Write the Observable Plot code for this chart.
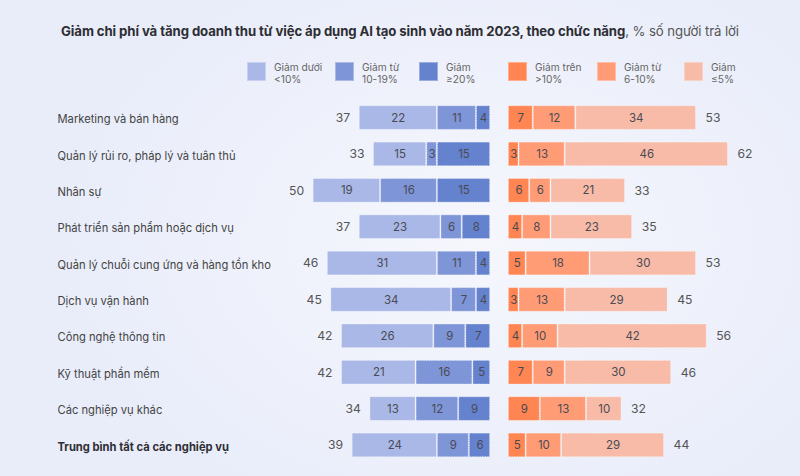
<!DOCTYPE html>
<html>
<head>
<meta charset="utf-8">
<script src="https://cdn.jsdelivr.net/npm/d3@7"></script>
<script src="https://cdn.jsdelivr.net/npm/@observablehq/plot@0.6"></script>
<style>
  html, body { margin: 0; padding: 0; }
  body {
    width: 800px; height: 476px; overflow: hidden;
    background: radial-gradient(ellipse 420px 300px at 480px 240px, #f6f7fd 0%, #eef1fb 60%, #e9edfa 100%);
    font-family: Inter, "Noto Sans", sans-serif;
  }
  #wrap { position: relative; width: 800px; height: 476px; }
  #title { position: absolute; top: 23px; left: 0; width: 800px; text-align: center; font-size: 13.2px; color: #333; letter-spacing: -0.1px; }
  #title b { font-weight: 700; color: #2e2e33; }
  #title span { color: #555; }
  #legend { position: absolute; top: 0; left: 0; width: 800px; height: 92px; }
  .li { position: absolute; top: 61px; display: flex; }
  .sw { width: 19px; height: 19px; margin-top: 1px; box-sizing: border-box; border: 1px solid rgba(255,255,255,0.35); }
  .lt { margin-left: 8px; font-size: 10.2px; line-height: 12px; color: #666; }
  #chart { position: absolute; top: 92px; left: 0; }
</style>
</head>
<body>
<div id="wrap">
  <div id="title"><b>Giảm chi phí và tăng doanh thu từ việc áp dụng AI tạo sinh vào năm 2023, theo chức năng</b><span>, % số người trả lời</span></div>
  <div id="legend"></div>
  <div id="chart"></div>
</div>
<script>
const categories = [
  "Marketing và bán hàng",
  "Quản lý rủi ro, pháp lý và tuân thủ",
  "Nhân sự",
  "Phát triển sản phẩm hoặc dịch vụ",
  "Quản lý chuỗi cung ứng và hàng tồn kho",
  "Dịch vụ vận hành",
  "Công nghệ thông tin",
  "Kỹ thuật phần mềm",
  "Các nghiệp vụ khác",
  "Trung bình tất cả các nghiệp vụ"
];
// Cost decrease (left side)
const costLt10   = [22, 15, 19, 23, 31, 34, 26, 21, 13, 24];
const cost10to19 = [11,  3, 16,  6, 11,  7,  9, 16, 12,  9];
const costGe20   = [ 4, 15, 15,  8,  4,  4,  7,  5,  9,  6];
const costTotal  = [37, 33, 50, 37, 46, 45, 42, 42, 34, 39];
// Revenue increase (right side)
const revGt10    = [ 7,  3,  6,  4,  5,  3,  4,  7,  9,  5];
const rev6to10   = [12, 13,  6,  8, 18, 13, 10,  9, 13, 10];
const revLe5     = [34, 46, 21, 23, 30, 29, 42, 30, 10, 29];
const revTotal   = [53, 62, 33, 35, 53, 45, 56, 46, 32, 44];

const seriesKeys = ["Giảm dưới <10%", "Giảm từ 10-19%", "Giảm ≥20%", "Giảm trên >10%", "Giảm từ 6-10%", "Giảm ≤5%"];
const seriesLines = [["Giảm dưới", "<10%"], ["Giảm từ", "10-19%"], ["Giảm", "≥20%"], ["Giảm trên", ">10%"], ["Giảm từ", "6-10%"], ["Giảm", "≤5%"]];
const seriesColors = ["#a9b8e7", "#7e95d8", "#6582ce", "#ff8552", "#ff9c76", "#f7bba7"];
const legendX = [247, 335, 419, 508, 597, 684];

// legend
const leg = document.getElementById("legend");
seriesKeys.forEach((k, i) => {
  const d = document.createElement("div");
  d.className = "li";
  d.style.left = legendX[i] + "px";
  d.innerHTML = `<div class="sw" style="background:${seriesColors[i]}"></div><div class="lt">${seriesLines[i][0]}<br>${seriesLines[i][1]}</div>`;
  leg.appendChild(d);
});

const GAP = 2.5;
const segs = [];
const totals = [];
categories.forEach((c, i) => {
  let cum = GAP;
  [[costGe20, 2], [cost10to19, 1], [costLt10, 0]].forEach(([arr, k]) => {
    segs.push({cat: c, key: seriesKeys[k], v: arr[i], x1: -(cum + arr[i]), x2: -cum});
    cum += arr[i];
  });
  totals.push({cat: c, v: costTotal[i], x: -(GAP + costTotal[i]), side: "L"});
  cum = GAP;
  [[revGt10, 3], [rev6to10, 4], [revLe5, 5]].forEach(([arr, k]) => {
    segs.push({cat: c, key: seriesKeys[k], v: arr[i], x1: cum, x2: cum + arr[i]});
    cum += arr[i];
  });
  totals.push({cat: c, v: revTotal[i], x: GAP + revTotal[i], side: "R"});
});

const last = categories[categories.length - 1];
const k = 3.55, origin = 499;
const plot = Plot.plot({
  width: 800,
  height: 384,
  marginLeft: 0, marginRight: 0, marginTop: 1, marginBottom: 6.5,
  style: {background: "transparent", fontFamily: "Inter, 'Noto Sans', sans-serif", overflow: "visible"},
  x: {domain: [-origin / k, (800 - origin) / k], axis: null},
  y: {domain: categories, padding: 0.35, round: false, axis: null},
  color: {domain: seriesKeys, range: seriesColors},
  marks: [
    Plot.rectX(segs, {x1: "x1", x2: "x2", y: "cat", fill: "key", stroke: "#ffffff", strokeOpacity: 0.5, strokeWidth: 1, strokeDasharray: "1.5,1", insetLeft: 0.5, insetRight: 0.5}),
    Plot.text(segs, {x: d => (d.x1 + d.x2) / 2, y: "cat", text: d => String(d.v), fill: "#4a4a55", fontSize: 11.5}),
    Plot.text(totals.filter(d => d.side === "L"), {x: "x", y: "cat", text: d => String(d.v), textAnchor: "end", dx: -9, fill: "#555", fontSize: 12.2}),
    Plot.text(totals.filter(d => d.side === "R"), {x: "x", y: "cat", text: d => String(d.v), textAnchor: "start", dx: 9, fill: "#555", fontSize: 12.2}),
    Plot.text(categories.filter(d => d !== last), {y: d => d, text: d => d, frameAnchor: "left", textAnchor: "start", dx: 57, dy: 1.5, fill: "#444", fontSize: 11.2}),
    Plot.text([last], {y: d => d, text: d => d, frameAnchor: "left", textAnchor: "start", dx: 57, dy: 1.5, fill: "#2e2e33", fontWeight: 700, fontSize: 11.2})
  ]
});
document.getElementById("chart").appendChild(plot);
</script>
</body>
</html>
